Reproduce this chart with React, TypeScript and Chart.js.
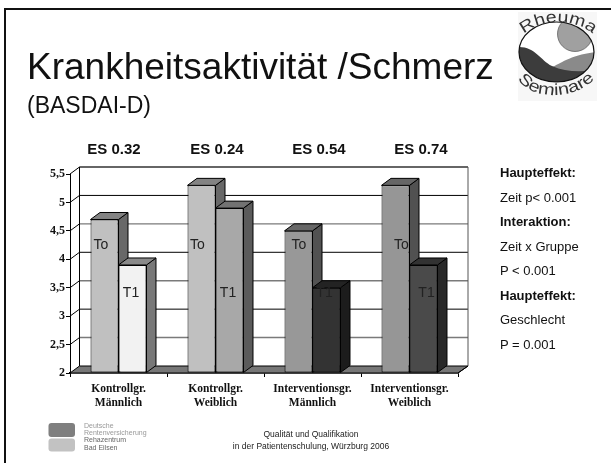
import React, { useEffect, useRef } from "react";
import { Chart, registerables } from "chart.js";

Chart.register(...registerables);

const categories = [["Kontrollgr.", "Männlich"], ["Kontrollgr.", "Weiblich"], ["Interventionsgr.", "Männlich"], ["Interventionsgr.", "Weiblich"]];
const t0Values = [4.7, 5.3, 4.5, 5.3];
const t1Values = [3.9, 4.9, 3.5, 3.9];
const t0Colors = ["#c0c0c0", "#c0c0c0", "#989898", "#969696"];
const t1Colors = ["#f2f2f2", "#a8a8a8", "#333333", "#4a4a4a"];
const effectSizes = ["ES 0.32", "ES 0.24", "ES 0.54", "ES 0.74"];
const effectX = [114, 217, 319, 421];
const sideNotes = [
  ["Haupteffekt:", true], ["Zeit p< 0.001", false], ["Interaktion:", true], ["Zeit x Gruppe", false],
  ["P < 0.001", false], ["Haupteffekt:", true], ["Geschlecht", false], ["P = 0.001", false],
] as [string, boolean][];
const sideNoteY = [173, 198, 222, 247, 271, 296, 320, 345];
const t0LabelShift = [10.5, 10, 14.5, 20];
const t1LabelShift = [12.5, 12.5, 12, 17];
const t0LabelValue = 4.25;
const t1LabelValue = 3.4;
const axisMin = 2;
const axisMax = 5.5;

const DX = 9.5;
const DY = -7;

function shade(hex: string, f: number) {
  const n = parseInt(hex.slice(1), 16);
  const c = (s: number) => Math.round(((n >> s) & 255) * f);
  return `rgb(${c(16)},${c(8)},${c(0)})`;
}

function poly(ctx: CanvasRenderingContext2D, pts: number[][], fill: string | null, stroke: string | null, lw = 1) {
  ctx.beginPath();
  pts.forEach((p, i) => (i ? ctx.lineTo(p[0], p[1]) : ctx.moveTo(p[0], p[1])));
  ctx.closePath();
  if (fill) { ctx.fillStyle = fill; ctx.fill(); }
  if (stroke) { ctx.strokeStyle = stroke; ctx.lineWidth = lw; ctx.stroke(); }
}

function line(ctx: CanvasRenderingContext2D, x1: number, y1: number, x2: number, y2: number, color: string, lw = 1) {
  ctx.beginPath();
  ctx.moveTo(x1, y1);
  ctx.lineTo(x2, y2);
  ctx.strokeStyle = color;
  ctx.lineWidth = lw;
  ctx.stroke();
}

const wallPlugin = {
  id: "wall3d",
  beforeDatasetsDraw(chart: any) {
    const { ctx, chartArea: a, scales } = chart;
    const y = scales.y;
    ctx.save();
    const r = a.right + DX + 0.5;
    const b = a.bottom;
    poly(ctx, [[a.left, b], [a.left + DX, b + DY], [r, b + DY], [a.right, b]], "#777777", "#000000");
    y.ticks.forEach((t: any) => {
      if (t.value === y.min || t.value === y.max) return;
      const py = y.getPixelForValue(t.value);
      const c = Number.isInteger(t.value) ? "#000000" : "#7a7a7a";
      line(ctx, a.left, py, a.left + DX, py + DY, "#000000");
      line(ctx, a.left + DX, py + DY, r, py + DY, c, Number.isInteger(t.value) ? 1 : 1.4);
    });
    line(ctx, a.left, a.top, a.left + DX, a.top + DY, "#000000");
    line(ctx, a.left + DX, a.top + DY, r, a.top + DY, "#333333", 1.5);
    line(ctx, a.left + DX, a.top + DY, a.left + DX, b + DY, "#000000");
    line(ctx, r, a.top + DY, r, b + DY, "#555555");
    line(ctx, r, b + DY, a.right, b, "#000000");
    ctx.restore();
  },
  afterDatasetsDraw(chart: any) {
    const { ctx, scales } = chart;
    const m0 = chart.getDatasetMeta(0).data;
    const m1 = chart.getDatasetMeta(1).data;
    const box = (el: any, color: string) => {
      const hw = el.width / 2;
      const l = el.x - hw;
      const r = el.x + hw;
      const top = el.y;
      const base = el.base;
      const side = color === "#f2f2f2" ? "#787878" : shade(color, 0.54);
      const lid = color === "#f2f2f2" ? "#8a8a8a" : shade(color, 0.68);
      poly(ctx, [[r, top], [r + DX, top + DY], [r + DX, base + DY], [r, base]], side, "#000000");
      poly(ctx, [[l, top], [l + DX, top + DY], [r + DX, top + DY], [r, top]], lid, "#000000");
    };
    ctx.save();
    m0.forEach((el0: any, i: number) => {
      box(el0, t0Colors[i]);
      m1[i].draw(ctx);
      box(m1[i], t1Colors[i]);
    });
    ctx.font = "14px 'Liberation Sans'";
    ctx.fillStyle = "#222222";
    ctx.textAlign = "center";
    ctx.textBaseline = "middle";
    m0.forEach((el0: any, i: number) => {
      ctx.fillText("To", el0.x - el0.width / 2 + t0LabelShift[i], scales.y.getPixelForValue(t0LabelValue));
      const e1 = m1[i];
      ctx.fillText("T1", e1.x - e1.width / 2 + t1LabelShift[i], scales.y.getPixelForValue(t1LabelValue));
    });
    ctx.restore();
  },
};

const text = (s: string, left: number, cy: number, size: number, extra: React.CSSProperties = {}) => (
  <div
    key={s + left + cy}
    style={{
      position: "absolute", left, top: cy - size, height: size * 2, lineHeight: `${size * 2}px`,
      fontFamily: "'Liberation Sans', Arial, sans-serif", fontSize: size, color: "#111", whiteSpace: "nowrap", ...extra,
    }}
  >
    {s}
  </div>
);

export default function App() {
  const ref = useRef<HTMLCanvasElement>(null);
  useEffect(() => {
    document.body.style.margin = "0";
    const chart = new Chart(ref.current!, {
      type: "bar",
      data: {
        labels: categories,
        datasets: [
          { label: "To", data: t0Values, base: axisMin, backgroundColor: t0Colors, borderColor: "#000000", borderWidth: 1, borderSkipped: false },
          { label: "T1", data: t1Values, base: axisMin, backgroundColor: t1Colors, borderColor: "#000000", borderWidth: 1, borderSkipped: false },
        ],
      },
      options: {
        responsive: false,
        animation: false,
        layout: { padding: { left: 36, right: 153, top: 174, bottom: 50 } },
        plugins: { legend: { display: false }, title: { display: false }, tooltip: { enabled: false } },
        datasets: { bar: { categoryPercentage: 0.577, barPercentage: 1 } },
        scales: {
          x: {
            afterFit: (s: any) => { s.height = 40; },
            grid: { drawOnChartArea: false, color: "#000000", tickLength: 4 },
            border: { color: "#000000", width: 1.5 },
            ticks: {
              color: "#111111", font: { family: "'Liberation Serif'", size: 11.5, weight: "bold", lineHeight: 1.22 },
              padding: 5, maxRotation: 0, autoSkip: false,
            },
          },
          y: {
            min: axisMin, max: axisMax,
            afterFit: (s: any) => { s.width = 34; },
            grid: { drawOnChartArea: false, color: "#000000", tickLength: 4 },
            border: { color: "#000000", width: 1 },
            ticks: {
              stepSize: 0.5, color: "#111111", padding: 1,
              font: { family: "'Liberation Serif'", size: 12, weight: "bold" },
              callback: (v: any) => String(v).replace(".", ","),
            },
          },
        },
      } as any,
      plugins: [wallPlugin],
    });
    return () => chart.destroy();
  }, []);

  return (
    <div style={{ position: "absolute", left: 0, top: 0, width: 611, height: 463, overflow: "hidden", background: "#fff" }}>
      <canvas ref={ref} width={611} height={463} style={{ position: "absolute", left: 0, top: 0 }} />
      <div style={{ position: "absolute", left: 4, top: 8, right: 0, height: 2, background: "#111" }} />
      <div style={{ position: "absolute", left: 4, top: 8, bottom: 0, width: 2, background: "#111" }} />
      {text("Krankheitsaktivität /Schmerz", 27, 67, 37)}
      {text("(BASDAI-D)", 27, 105, 23)}
      {effectSizes.map((s, i) => (
        <div key={s} style={{ position: "absolute", left: effectX[i] - 40, width: 80, textAlign: "center", top: 139, lineHeight: "20px", fontFamily: "'Liberation Sans'", fontWeight: "bold", fontSize: 15, color: "#111" }}>{s}</div>
      ))}
      {sideNotes.map(([s, b], i) => text(s, 500, sideNoteY[i], 13, { fontWeight: b ? "bold" : "normal" }))}
      <div style={{ position: "absolute", left: 211, width: 200, textAlign: "center", top: 428, fontFamily: "'Liberation Sans'", fontSize: 8.5, lineHeight: "12px", color: "#222" }}>
        Qualität und Qualifikation<br />in der Patientenschulung, Würzburg 2006
      </div>
      {text("Deutsche", 84, 426, 7, { color: "#999" })}
      {text("Rentenversicherung", 84, 433, 7, { color: "#999" })}
      {text("Rehazentrum", 84, 440, 7, { color: "#666" })}
      {text("Bad Eilsen", 84, 448, 7, { color: "#666" })}
      <svg width={611} height={463} style={{ position: "absolute", left: 0, top: 0, pointerEvents: "none" }}>
        <rect x={48.5} y={423} width={26.5} height={14} rx={3} fill="#7f7f7f" />
        <rect x={48.5} y={438.5} width={26.5} height={13} rx={3} fill="#c2c2c2" />
        <rect x={518} y={12} width={79} height={89} fill="#f7f7f7" />
        <defs>
          <clipPath id="eggClip"><ellipse cx={556.5} cy={52} rx={37.5} ry={30} /></clipPath>
          <path id="arcTop" d="M 524 34 C 540 19, 575 17, 594 35" fill="none" />
          <path id="arcBottom" d="M 518 79 C 530 100, 578 102, 598 75" fill="none" />
        </defs>
        <ellipse cx={556.5} cy={52} rx={37.5} ry={30} fill="#fff" />
        <g clipPath="url(#eggClip)">
          <circle cx={575} cy={34} r={17.5} fill="#a0a0a0" stroke="#555" strokeWidth={0.7} />
          <path d="M 552 67 C 560 64, 570 55, 596 52 L 596 90 L 540 90 Z" fill="#8a8a8a" />
          <path d="M 517 47 C 535 46, 540 60, 552 66 C 565 72, 580 72, 596 70 L 596 90 L 517 90 Z" fill="#3c3c3c" />
        </g>
        <ellipse cx={556.5} cy={52} rx={37.5} ry={30} fill="none" stroke="#111" strokeWidth={1.2} />
        <text fontFamily="'Liberation Sans'" fontSize={16} fill="#333"><textPath href="#arcTop" textLength={74} lengthAdjust="spacingAndGlyphs">Rheuma</textPath></text>
        <text fontFamily="'Liberation Sans'" fontSize={16} fill="#333"><textPath href="#arcBottom" textLength={86} lengthAdjust="spacingAndGlyphs">Seminare</textPath></text>
      </svg>
    </div>
  );
}
